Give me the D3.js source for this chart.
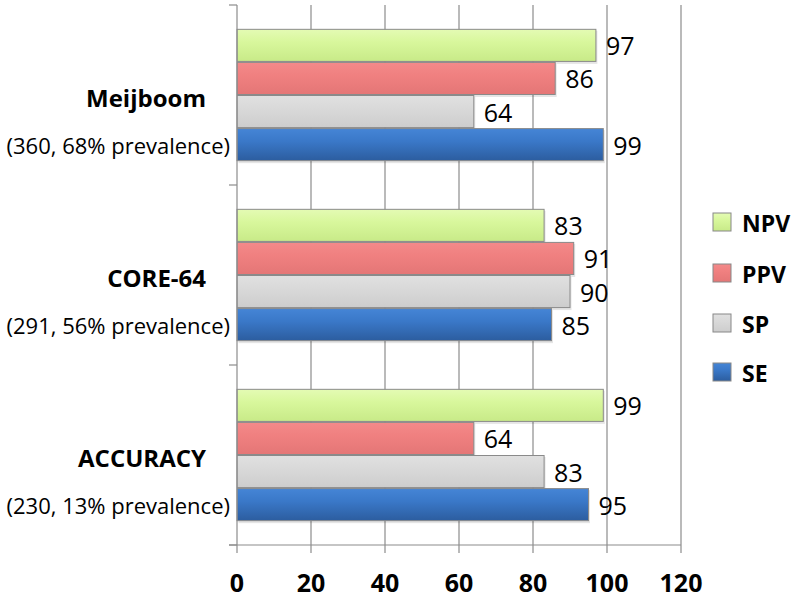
<!DOCTYPE html>
<html><head><meta charset="utf-8">
<script src="https://cdn.jsdelivr.net/npm/d3@7"></script>
<style>body{margin:0;background:#fff;} text{font-family:"Open Sans",Lato,sans-serif;}</style>
</head><body><svg id="c" width="797" height="600"></svg>
<script>
const groups = ["Meijboom", "CORE-64", "ACCURACY"];
const subtitles = ["(360, 68% prevalence)", "(291, 56% prevalence)", "(230, 13% prevalence)"];
const seriesNames = ["NPV", "PPV", "SP", "SE"];
const NPV = [97, 83, 99];
const PPV = [86, 91, 64];
const SP = [64, 90, 83];
const SE = [99, 85, 95];
const xTicks = [0, 20, 40, 60, 80, 100, 120];
const seriesValues = {NPV, PPV, SP, SE};

const colors = {
  NPV: {top:"#e4fbb4", mid:"#d8f79c", bot:"#c8ea88"},
  PPV: {top:"#f38a8a", mid:"#f08080", bot:"#e47676"},
  SP:  {top:"#e0e0e0", mid:"#d9d9d9", bot:"#cdcdcd"},
  SE:  {top:"#4585d6", mid:"#3a78c8", bot:"#2c5d9f"}
};

const svg = d3.select("#c");
const defs = svg.append("defs");
seriesNames.forEach(s => {
  const g = defs.append("linearGradient").attr("id","g"+s).attr("x1",0).attr("y1",0).attr("x2",0).attr("y2",1);
  g.append("stop").attr("offset","0%").attr("stop-color",colors[s].top);
  g.append("stop").attr("offset","40%").attr("stop-color",colors[s].mid);
  g.append("stop").attr("offset","100%").attr("stop-color",colors[s].bot);
});

const x = d3.scaleLinear().domain([0,120]).range([237,681]);
const y = d3.scaleBand().domain(groups).range([5,545]).padding(0);
const yi = d3.scaleBand().domain(seriesNames).range([0,y.bandwidth()]).paddingInner(0).paddingOuter(0.72);

// gridlines
svg.append("g").selectAll("line").data(xTicks.slice(1)).join("line")
  .attr("x1",d=>x(d)).attr("x2",d=>x(d)).attr("y1",5).attr("y2",553)
  .attr("stroke","#8c8c8c").attr("stroke-width",1.2);

// bars
const gg = svg.append("g").selectAll("g").data(groups).join("g")
  .attr("transform",d=>`translate(0,${y(d)})`);
gg.each(function(grp,i){
  const sel = d3.select(this);
  seriesNames.forEach(s=>{
    const v = seriesValues[s][i];
    sel.append("rect").attr("x",x(0)+1.5).attr("y",yi(s)+2)
      .attr("width",x(v)-x(0)).attr("height",yi.bandwidth()).attr("fill","#000").attr("opacity",0.1);
  });
  seriesNames.forEach(s=>{
    const v = seriesValues[s][i];
    sel.append("rect").attr("x",x(0)).attr("y",yi(s)+0.5)
      .attr("width",x(v)-x(0)).attr("height",yi.bandwidth()-1)
      .attr("fill",`url(#g${s})`).attr("stroke","#8a8a8a").attr("stroke-width",1);
    sel.append("text").attr("x",x(v)+10).attr("y",yi(s)+yi.bandwidth()/2+10)
      .attr("font-size",25).attr("fill","#000").text(v);
  });
});

// y axis line and ticks
svg.append("line").attr("x1",x(0)).attr("x2",x(0)).attr("y1",5).attr("y2",553).attr("stroke","#8c8c8c").attr("stroke-width",1.2);
const yTickPos = [5, ...groups.map(g=>y(g)+y.bandwidth())];
svg.append("g").selectAll("line").data(yTickPos).join("line")
  .attr("x1",229).attr("x2",x(0)).attr("y1",d=>d).attr("y2",d=>d).attr("stroke","#8c8c8c").attr("stroke-width",1.2);
// x axis
svg.append("line").attr("x1",229).attr("x2",x(120)).attr("y1",545).attr("y2",545).attr("stroke","#8c8c8c").attr("stroke-width",1.2);
svg.append("g").selectAll("text").data(xTicks).join("text")
  .attr("x",d=>x(d)).attr("y",592).attr("text-anchor","middle")
  .attr("font-size",25).attr("font-weight","bold").text(d=>d);

// category labels
svg.append("g").selectAll("text").data(groups).join("text")
  .attr("x",206).attr("y",d=>y(d)+y.bandwidth()/2 + 12)
  .attr("text-anchor","end").attr("font-size",24).attr("font-weight","bold").text(d=>d);
svg.append("g").selectAll("text").data(subtitles).join("text")
  .attr("x",230).attr("y",(d,i)=>y(groups[i])+y.bandwidth()/2 + 59)
  .attr("text-anchor","end").attr("font-size",22).text(d=>d);

// legend
const legY = [222, 273, 323, 372];
const lg = svg.append("g").selectAll("g").data(seriesNames).join("g")
  .attr("transform",(d,i)=>`translate(713,${legY[i]})`);
lg.append("rect").attr("x",0).attr("y",-9).attr("width",18).attr("height",18)
  .attr("fill",d=>`url(#g${d})`).attr("stroke","#888").attr("stroke-width",1);
lg.append("text").attr("x",29).attr("y",10).attr("font-size",23).attr("font-weight","bold").text(d=>d);
</script></body></html>
